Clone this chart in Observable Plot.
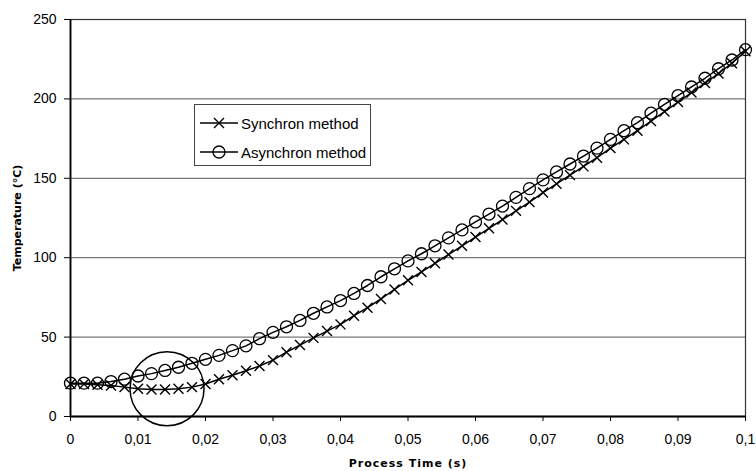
<!DOCTYPE html>
<html>
<head>
<meta charset="utf-8">
<script src="https://cdn.jsdelivr.net/npm/d3@7"></script>
<script src="https://cdn.jsdelivr.net/npm/@observablehq/plot@0.6"></script>
<style>
  body { margin: 0; background: #fff; }
  #wrap { position: relative; width: 756px; height: 471px; overflow: hidden; }
  #legend { position: absolute; left: 194px; top: 104px; }
</style>
</head>
<body>
<div id="wrap"></div>
<script>
// Process time (s)
const time = [0, 0.002, 0.004, 0.006, 0.008, 0.010, 0.012, 0.014, 0.016, 0.018,
  0.020, 0.022, 0.024, 0.026, 0.028, 0.030, 0.032, 0.034, 0.036, 0.038,
  0.040, 0.042, 0.044, 0.046, 0.048, 0.050, 0.052, 0.054, 0.056, 0.058,
  0.060, 0.062, 0.064, 0.066, 0.068, 0.070, 0.072, 0.074, 0.076, 0.078,
  0.080, 0.082, 0.084, 0.086, 0.088, 0.090, 0.092, 0.094, 0.096, 0.098, 0.100];

// Temperature (°C) – Synchron method
const synchron = [20.5, 20.5, 20, 19.5, 18.5, 17.5, 17, 17, 17.5, 18.5,
  20.5, 23.5, 26, 28.8, 31.8, 35.5, 40.5, 45, 49.5, 53.8,
  58, 63.5, 68.5, 74, 80, 85.8, 91, 96.5, 102, 107.5,
  113, 118.5, 124, 129.5, 135, 141, 146.5, 152, 157.5, 163,
  169, 174.5, 180, 186, 192, 198, 204, 210, 216, 222.5, 230];

// Temperature (°C) – Asynchron method
const asynchron = [21, 21, 21, 22, 23.5, 25.5, 27, 29, 31, 33.5,
  36, 38.5, 41.5, 44.5, 49, 53, 56.5, 60.5, 65, 69,
  73, 77.5, 82.5, 88, 93, 98, 102.5, 107.5, 112.5, 117.5,
  122.5, 127.5, 132.5, 138, 143.5, 149, 154, 159, 164, 169,
  174.5, 180, 185, 191, 196.5, 202, 207.5, 213, 219, 224.5, 231];

// Highlight circle annotation (centre of the dip)
const highlightTime = [0.0143];
const highlightTemp = [17.5];

// Axis ticks and labels
const xTicks = [0, 0.01, 0.02, 0.03, 0.04, 0.05, 0.06, 0.07, 0.08, 0.09, 0.1];
const xTickLabels = ["0", "0,01", "0,02", "0,03", "0,04", "0,05", "0,06", "0,07", "0,08", "0,09", "0,1"];
const yTicks = [0, 50, 100, 150, 200, 250];
const yGrid = [50, 100, 150, 200];

const seriesNames = ["Synchron method", "Asynchron method"];
const xTitle = "Process Time (s)";
const yTitle = "Temperature (°C)";

const data = time.map((t, i) => ({ t, sync: synchron[i], async: asynchron[i] }));
const highlight = highlightTime.map((t, i) => ({ t, v: highlightTemp[i] }));

const sans = '"Liberation Sans", Arial, sans-serif';
const titleFont = '"DejaVu Sans", sans-serif';

const fmtX = d => {
  const i = xTicks.findIndex(v => Math.abs(v - d) < 1e-9);
  return i >= 0 ? xTickLabels[i] : "";
};

const chart = Plot.plot({
  width: 756,
  height: 471,
  marginLeft: 70,
  marginRight: 11,
  marginTop: 19,
  marginBottom: 55,
  style: { fontFamily: sans, fontSize: "14px", color: "#000", background: "#fff", overflow: "visible" },
  x: { domain: [0, 0.1] },
  y: { domain: [0, 250] },
  marks: [
    Plot.gridY(yGrid, { stroke: "#555", strokeOpacity: 1, strokeWidth: 1 }),
    Plot.frame({ stroke: "#333", strokeWidth: 1.2 }),
    Plot.ruleX([0], { stroke: "#000", strokeWidth: 1.8 }),
    Plot.ruleY([0], { stroke: "#000", strokeWidth: 1.8 }),
    Plot.axisX({ ticks: xTicks, tickFormat: fmtX, tickSize: 5, tickPadding: 13, fontSize: 14, label: null, stroke: "#000" }),
    Plot.axisY({ ticks: yTicks, tickSize: 6, tickPadding: 8, fontSize: 14, label: null, stroke: "#000" }),
    Plot.text([xTitle], { frameAnchor: "bottom", dy: 47, fontWeight: "bold", fontSize: 11, fontFamily: titleFont, textAnchor: "middle", lineAnchor: "middle", fill: "#000", className: "xtitle" }),
    Plot.text([yTitle], { frameAnchor: "left", dx: -53, rotate: -90, fontWeight: "bold", fontSize: 11, fontFamily: titleFont, textAnchor: "middle", lineAnchor: "middle", fill: "#000" }),
    Plot.line(data, { x: "t", y: "sync", stroke: "#000", strokeWidth: 1.5 }),
    Plot.dot(data, { x: "t", y: "sync", symbol: "times", r: 4.6, stroke: "#000", strokeWidth: 1.4 }),
    Plot.line(data, { x: "t", y: "async", stroke: "#000", strokeWidth: 1.5 }),
    Plot.dot(data, { x: "t", y: "async", symbol: "circle", r: 6, stroke: "#000", fill: "none", strokeWidth: 1.3 }),
    Plot.dot(highlight, { x: "t", y: "v", r: 37, stroke: "#000", fill: "none", strokeWidth: 1.5 })
  ]
});

// letter-spaced x-axis title, as in the reference
chart.querySelectorAll(".xtitle text").forEach(t => t.style.letterSpacing = "1px");

const wrap = document.getElementById("wrap");
wrap.appendChild(chart);

// Legend (drawn inside the plot area, as in the reference)
const ns = "http://www.w3.org/2000/svg";
const lg = document.createElementNS(ns, "svg");
lg.setAttribute("id", "legend");
lg.setAttribute("width", "184");
lg.setAttribute("height", "64");
const mk = (tag, attrs, text) => {
  const el = document.createElementNS(ns, tag);
  for (const k in attrs) el.setAttribute(k, attrs[k]);
  if (text) el.textContent = text;
  lg.appendChild(el);
  return el;
};
mk("rect", { x: 0.5, y: 0.5, width: 176, height: 61, fill: "#fff", stroke: "#444", "stroke-width": 1 });
const rows = [19, 48];
seriesNames.forEach((name, i) => {
  const y = rows[i];
  mk("line", { x1: 6, x2: 44, y1: y, y2: y, stroke: "#000", "stroke-width": 1.5 });
  if (i === 0) {
    mk("path", { d: `M20,${y - 5}L30,${y + 5}M20,${y + 5}L30,${y - 5}`, stroke: "#000", "stroke-width": 1.4, fill: "none" });
  } else {
    mk("circle", { cx: 25, cy: y, r: 6, stroke: "#000", "stroke-width": 1.3, fill: "none" });
  }
  mk("text", { x: 47, y: y, "dominant-baseline": "central", "font-family": sans, "font-size": 15, fill: "#000" }, name);
});
wrap.appendChild(lg);
</script>
</body>
</html>
